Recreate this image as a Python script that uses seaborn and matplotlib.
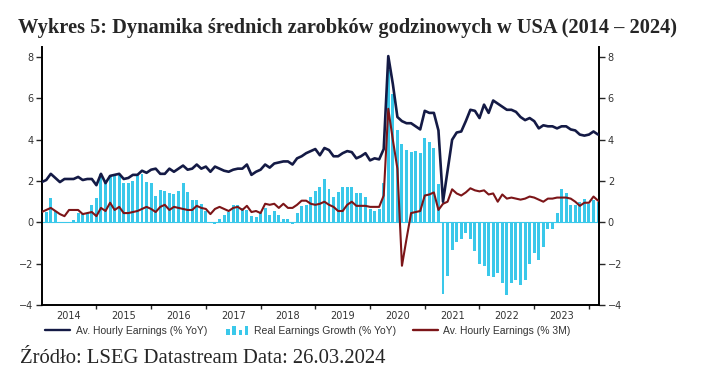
import numpy as np
import pandas as pd
import matplotlib
matplotlib.use("Agg")
import matplotlib.pyplot as plt
from matplotlib.patches import Rectangle
from matplotlib.lines import Line2D
from matplotlib.legend_handler import HandlerBase
import seaborn as sns

sns.set_style("ticks")
plt.rcParams['font.family'] = ['DejaVu Sans']

# dane miesięczne, od końca 2013 do lutego 2024 (odczyt z wykresu)
yoy = [1.95, 2.05, 2.35, 2.15, 1.95, 2.1, 2.1, 2.1, 2.2, 2.05, 2.1, 2.1,
       1.8, 2.35, 1.9, 2.25, 2.3, 2.35, 2.1, 2.15, 2.3, 2.3, 2.5, 2.4,
       2.55, 2.6, 2.35, 2.35, 2.6, 2.45, 2.6, 2.75, 2.55, 2.6, 2.8, 2.6,
       2.7, 2.45, 2.7, 2.6, 2.5, 2.45, 2.55, 2.6, 2.6, 2.8, 2.3, 2.45,
       2.55, 2.8, 2.65, 2.85, 2.9, 2.95, 2.95, 2.8, 3.1, 3.2, 3.35, 3.45,
       3.55, 3.25, 3.6, 3.5, 3.2, 3.2, 3.35, 3.45, 3.4, 3.1, 3.2, 3.35,
       3.0, 3.1, 3.05, 3.55, 8.05, 6.7, 5.1, 4.9, 4.8, 4.8, 4.65, 4.5,
       5.4, 5.3, 5.3, 4.45, 1.0, 2.5, 4.0, 4.35, 4.4, 4.9, 5.45, 5.4,
       5.05, 5.7, 5.3, 5.9, 5.75, 5.6, 5.45, 5.45, 5.35, 5.1, 4.95, 5.05,
       4.9, 4.55, 4.7, 4.65, 4.65, 4.55, 4.65, 4.65, 4.5, 4.45, 4.25, 4.2,
       4.25, 4.4, 4.25]

m3 = [0.5, 0.6, 0.7, 0.55, 0.4, 0.3, 0.6, 0.6, 0.6, 0.4, 0.45, 0.5,
      0.3, 0.7, 0.55, 0.95, 0.6, 0.75, 0.45, 0.45, 0.5, 0.55, 0.65, 0.75,
      0.65, 0.5, 0.75, 0.85, 0.6, 0.75, 0.7, 0.65, 0.6, 0.6, 0.8, 0.7,
      0.65, 0.4, 0.65, 0.75, 0.65, 0.55, 0.7, 0.75, 0.6, 0.8, 0.5, 0.55,
      0.45, 0.9, 0.85, 0.9, 0.7, 0.9, 0.7, 0.7, 0.85, 1.05, 1.05, 0.9,
      0.85, 0.9, 1.0, 0.85, 0.75, 0.55, 0.55, 0.85, 1.0, 0.8, 0.8, 0.8,
      0.75, 0.75, 0.75, 1.3, 5.5, 4.0, 2.6, -2.1, -0.8, 0.45, 0.5, 0.55,
      1.3, 1.35, 1.45, 0.6, 0.9, 1.0, 1.6, 1.4, 1.3, 1.45, 1.65, 1.55,
      1.5, 1.55, 1.35, 1.4, 1.0, 1.35, 1.15, 1.2, 1.15, 1.1, 1.15, 1.25,
      1.2, 1.1, 1.0, 1.15, 1.15, 1.2, 1.2, 1.2, 1.15, 1.0, 0.8, 0.95,
      0.95, 1.25, 1.05]

real = [0.45, 0.5, 1.2, 0.55, -0.05, 0.0, 0.0, 0.1, 0.45, 0.4, 0.45, 0.85,
        1.2, 2.35, 1.95, 2.3, 2.35, 2.3, 1.9, 1.9, 2.0, 2.3, 2.35, 1.95,
        1.9, 1.3, 1.55, 1.5, 1.4, 1.35, 1.5, 1.9, 1.45, 1.1, 1.1, 0.9,
        0.55, -0.05, -0.1, 0.15, 0.35, 0.5, 0.85, 0.85, 0.7, 0.6, 0.3, 0.27,
        0.45, 0.7, 0.35, 0.55, 0.35, 0.15, 0.15, -0.08, 0.45, 0.8, 0.85, 1.25,
        1.5, 1.7, 2.1, 1.6, 1.25, 1.45, 1.7, 1.7, 1.7, 1.4, 1.4, 1.25,
        0.65, 0.55, 0.65, 1.9, 7.4, 6.2, 4.45, 3.8, 3.5, 3.4, 3.45, 3.35,
        4.1, 3.9, 3.6, 1.85, -3.45, -2.6, -1.35, -0.95, -0.8, -0.5, -0.8, -1.4,
        -2.0, -2.1, -2.6, -2.65, -2.45, -2.95, -3.5, -2.95, -2.8, -3.05, -2.8, -2.0,
        -1.5, -1.8, -1.2, -0.3, -0.3, 0.45, 1.6, 1.4, 0.85, 0.85, 1.0, 1.15,
        0.9, 1.1, 1.0]

start_year = 2014
year_labels = ['2014', '2015', '2016', '2017', '2018', '2019', '2020', '2021', '2022', '2023']
labels = ['Av. Hourly Earnings (% YoY)', 'Real Earnings Growth (% YoY)', 'Av. Hourly Earnings (% 3M)']

NAVY = '#141a45'
CYAN = '#3ac8ea'
RED = '#7c1518'

df = pd.DataFrame({'x': start_year + np.arange(len(yoy)) / 12,
                   'yoy': yoy, 'm3': m3, 'real': real})

fig = plt.figure(figsize=(7.16, 3.9), dpi=100)
ax = fig.add_axes([0.0582, 0.218, 0.779, 0.662])

sns.barplot(data=df, x='x', y='real', native_scale=True, width=0.65, color=CYAN,
            saturation=1, errorbar=None, ax=ax, zorder=1, linewidth=0)
ax.axhline(0, color=CYAN, lw=0.8, zorder=2)
sns.lineplot(data=df, x='x', y='m3', color=RED, lw=1.5, ax=ax, zorder=3)
sns.lineplot(data=df, x='x', y='yoy', color=NAVY, lw=1.9, ax=ax, zorder=4)

ax.set_xlim(start_year, start_year + 122.3 / 12)
ax.set_ylim(-4, 8.5)
ax.set_xlabel('')
ax.set_ylabel('')

ax.set_yticks(range(-4, 9, 2))
ax.tick_params(axis='y', left=True, right=True, labelleft=True, labelright=True,
               direction='out', length=4, width=1, labelsize=7, labelcolor='#333333', pad=2)

ax.set_xticks(np.arange(2015, 2025))
ax.set_xticklabels([])
ax.set_xticks(np.arange(2014.5, 2024), minor=True)
ax.set_xticklabels(year_labels, minor=True)
ax.tick_params(axis='x', which='major', direction='out', length=3, width=1)
ax.tick_params(axis='x', which='minor', length=0, labelsize=7, labelcolor='#333333', pad=4)

for s in ['left', 'right', 'bottom']:
    ax.spines[s].set_visible(True)
    ax.spines[s].set_color('black')
    ax.spines[s].set_linewidth(1.4)
ax.spines['top'].set_visible(False)


class MiniBars(HandlerBase):
    # ikonka "ılıl" jak w oryginalnej legendzie
    def create_artists(self, legend, orig_handle, xdescent, ydescent, width, height, fontsize, trans):
        hs = [0.7, 1.0, 0.6, 1.0]
        w = width / 8
        out = []
        for i, h in enumerate(hs):
            r = Rectangle((xdescent + width * 0.1 + i * 2 * w, -ydescent - 1), w * 1.1, height * h * 1.3,
                          facecolor=CYAN, edgecolor='none', transform=trans)
            out.append(r)
        return out


h1 = Line2D([], [], color=NAVY, lw=1.7)
h2 = Rectangle((0, 0), 1, 1)
h3 = Line2D([], [], color=RED, lw=1.7)
leg = fig.legend([h1, h2, h3], labels, loc='center', bbox_to_anchor=(0.43, 1 - 331 / 390),
                 ncol=3, frameon=False, handlelength=2.4, handletextpad=0.5, columnspacing=1.6,
                 handler_map={Rectangle: MiniBars()},
                 prop={'family': 'Liberation Sans', 'size': 7.5})
for t in leg.get_texts():
    t.set_color('#333333')

fig.text(0.025, 1 - 33 / 390, 'Wykres 5: Dynamika średnich zarobków godzinowych w USA (2014 – 2024)',
         fontsize=14.7, fontweight='bold', family='Liberation Serif', va='baseline')
fig.text(0.028, 1 - 363 / 390, 'Źródło: LSEG Datastream Data: 26.03.2024',
         fontsize=14.9, family='Liberation Serif', va='baseline')

fig.savefig('out.png', dpi=100)
